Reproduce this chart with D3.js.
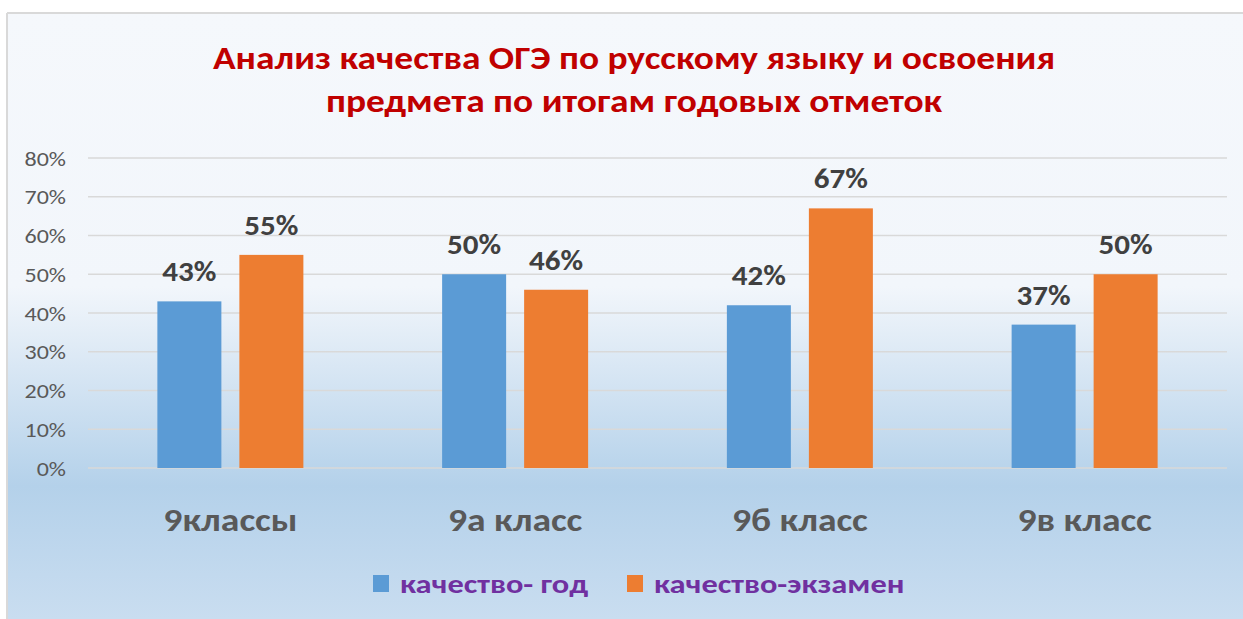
<!DOCTYPE html>
<html><head><meta charset="utf-8">
<script src="https://cdn.jsdelivr.net/npm/d3@7"></script>
<style>html,body{margin:0;padding:0;background:#fff;}svg{display:block;}</style>
</head><body>
<svg id="c" width="1243" height="619"></svg>
<script>
const categories = ["9классы", "9а класс", "9б класс", "9в класс"];
const seriesNames = ["качество- год", "качество-экзамен"];
const yearQuality = [43, 50, 42, 37];
const examQuality = [55, 46, 67, 50];
const yTicks = [0, 10, 20, 30, 40, 50, 60, 70, 80];
const titleLines = ["Анализ качества ОГЭ по русскому языку и освоения", "предмета по итогам годовых отметок"];
const colors = ["#5b9bd5", "#ed7d31"];

const FONT = "Carlito, Calibri, 'Liberation Sans Narrow', 'Open Sans', sans-serif";
const svg = d3.select("#c");
const W = 1243, H = 619;

function stretch(sel, f) {
  sel.each(function(){
    const w = this.getComputedTextLength();
    d3.select(this).attr("textLength", w*f).attr("lengthAdjust","spacingAndGlyphs");
  });
}

// background
const defs = svg.append("defs");
const g = defs.append("linearGradient").attr("id","bg").attr("x1",0).attr("y1",0).attr("x2",0).attr("y2",1);
[[0,"#f5f8fc"],[0.45,"#f2f6fb"],[0.78,"#b4d1ea"],[1,"#c9ddf0"]].forEach(([o,c])=>g.append("stop").attr("offset",o).attr("stop-color",c));
svg.append("rect").attr("x",8).attr("y",14).attr("width",W-8).attr("height",H-14).attr("fill","url(#bg)");
svg.append("line").attr("x1",7).attr("x2",W).attr("y1",13).attr("y2",13).attr("stroke","#d9d9d9").attr("stroke-width",2);
svg.append("line").attr("x1",7).attr("x2",7).attr("y1",13).attr("y2",H).attr("stroke","#d9d9d9").attr("stroke-width",2);

// title
const tt = svg.append("g").selectAll("text").data(titleLines).join("text")
  .attr("x", 634).attr("y",(d,i)=>69+i*43)
  .attr("text-anchor","middle").attr("font-family",FONT).attr("font-weight","bold")
  .attr("font-size",32).attr("fill","#c00000").text(d=>d);
stretch(tt, 1.17);

const x0 = d3.scaleBand().domain(categories).range([88,1227]).paddingInner(0).paddingOuter(0);
const y = d3.scaleLinear().domain([0,80]).range([468,158]);

// grid
svg.append("g").selectAll("line").data(yTicks).join("line")
  .attr("x1",88).attr("x2",1227).attr("y1",d=>y(d)).attr("y2",d=>y(d))
  .attr("stroke","#d9d9d9").attr("stroke-width",1.5);

// y axis
const yAxis = d3.axisLeft(y).tickValues(yTicks).tickFormat(d=>d+"%").tickSize(0).tickPadding(0);
const ya = svg.append("g").attr("transform","translate(66,0)").call(yAxis);
ya.select(".domain").remove();
ya.selectAll("text").attr("font-family",FONT).attr("font-size",20).attr("fill","#595959").attr("dy","0.35em");
stretch(ya.selectAll("text"), 1.2);

// bars
const barW = 64, gap = 18;
const data = categories.map((c,i)=>({c, vals:[yearQuality[i], examQuality[i]]}));
const groups = svg.append("g").selectAll("g").data(data).join("g")
  .attr("transform",d=>`translate(${x0(d.c)+x0.bandwidth()/2},0)`);
const offs = [-(gap/2+barW), gap/2];
groups.selectAll("rect").data(d=>d.vals).join("rect")
  .attr("x",(d,i)=>offs[i]).attr("width",barW)
  .attr("y",d=>y(d)).attr("height",d=>y(0)-y(d))
  .attr("fill",(d,i)=>colors[i]);
const lbl = groups.selectAll("text.lbl").data(d=>d.vals).join("text").attr("class","lbl")
  .attr("x",(d,i)=>offs[i]+barW/2).attr("y",d=>y(d)-20)
  .attr("text-anchor","middle").attr("font-family",FONT).attr("font-weight","bold")
  .attr("font-size",29).attr("fill","#404040").text(d=>d+"%");
stretch(lbl, 1.07);

// x axis labels
const xAxis = d3.axisBottom(x0).tickSize(0).tickPadding(0);
const xa = svg.append("g").attr("transform","translate(0,519)").call(xAxis);
xa.select(".domain").remove();
xa.selectAll("text").attr("font-family",FONT).attr("font-weight","bold").attr("font-size",33)
  .attr("fill","#595959").attr("dy","0.35em");
stretch(xa.selectAll("text"), 1.14);

// legend
const leg = svg.append("g");
const lx = [373, 627];
seriesNames.forEach((n,i)=>{
  leg.append("rect").attr("x",lx[i]).attr("y",575).attr("width",16).attr("height",17).attr("fill",colors[i]);
  const t = leg.append("text").attr("x",lx[i]+27).attr("y",584).attr("dy","0.35em")
    .attr("font-family",FONT).attr("font-weight","bold").attr("font-size",27).attr("fill","#7030a0").text(n);
  stretch(t, 1.2);
});
</script>
</body></html>
